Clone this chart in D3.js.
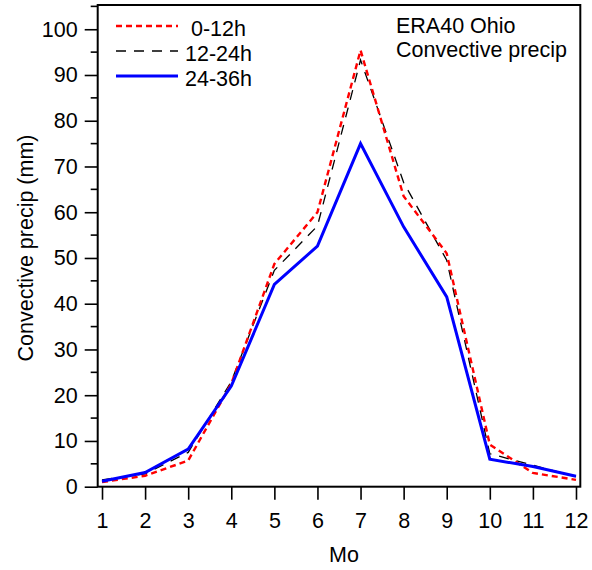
<!DOCTYPE html>
<meta charset="utf-8">
<head>
    <style>
        body {margin: 0; background-color: #ffffff;}
        text {font-family: "Liberation Sans", Arial, sans-serif; fill: #000;}
    </style>
    <title></title>
</head>
<body>
<script src="https://d3js.org/d3.v7.min.js"></script>
<script>

    const width = 592, height = 570;

    const months = [1, 2, 3, 4, 5, 6, 7, 8, 9, 10, 11, 12];
    const precip0to12 = [1.0, 2.4, 5.7, 22.5, 48.7, 60.0, 95.4, 63.5, 51.0, 9.2, 3.0, 1.5];
    const precip12to24 = [1.5, 2.8, 7.5, 23.0, 47.3, 57.0, 93.3, 66.5, 49.5, 7.2, 4.7, 2.2];
    const precip24to36 = [1.2, 3.1, 8.2, 22.0, 44.2, 52.6, 75.0, 56.8, 41.5, 6.0, 4.4, 2.3];
    const seriesNames = ["0-12h", "12-24h", "24-36h"];
    const yTicks = [0, 10, 20, 30, 40, 50, 60, 70, 80, 90, 100];
    const yMinorTicks = [5, 15, 25, 35, 45, 55, 65, 75, 85, 95, 105];
    const annotation = ["ERA40 Ohio", "Convective precip"];

    const fontSize = "21.5px";

    const svg = d3.select("body")
      .append("svg")
        .attr("width", width)
        .attr("height", height);

    const x = d3.scaleLinear().domain([0.9, 12.1]).range([97.7, 580.3]);
    const y = d3.scaleLinear().domain([0, 105.3]).range([486.7, 5]);

    // series styles
    const styles = [
      {color: "#ff0000", width: 2.4, dash: "6,4"},
      {color: "#000000", width: 1.3, dash: "10,8"},
      {color: "#0000ff", width: 3, dash: null}
    ];
    const allSeries = [precip0to12, precip12to24, precip24to36];

    const line = d3.line()
      .x((d, i) => x(months[i]))
      .y(d => y(d));

    // draw order: black, red, blue on top
    [1, 0, 2].forEach(k => {
      svg.append("path")
        .datum(allSeries[k])
        .attr("fill", "none")
        .attr("stroke", styles[k].color)
        .attr("stroke-width", styles[k].width)
        .attr("stroke-dasharray", styles[k].dash)
        .attr("stroke-linejoin", "miter")
        .attr("d", line);
    });

    // frame
    svg.append("rect")
      .attr("x", x.range()[0])
      .attr("y", y.range()[1])
      .attr("width", x.range()[1] - x.range()[0])
      .attr("height", y.range()[0] - y.range()[1])
      .attr("fill", "none")
      .attr("stroke", "#000")
      .attr("stroke-width", 2);

    // y axis
    const yAxis = svg.append("g")
      .attr("transform", "translate(" + x.range()[0] + ",0)")
      .call(d3.axisLeft(y).tickValues(yTicks).tickSize(13).tickPadding(7));
    yAxis.select(".domain").remove();
    yAxis.selectAll("line").attr("stroke-width", 1.6);
    yAxis.selectAll("text")
      .style("font-size", fontSize)
      .style("font-family", "Liberation Sans, Arial, sans-serif");

    svg.append("g")
      .selectAll("line")
      .data(yMinorTicks.filter(d => d <= 105.3))
      .join("line")
        .attr("x1", x.range()[0] - 7)
        .attr("x2", x.range()[0])
        .attr("y1", d => y(d))
        .attr("y2", d => y(d))
        .attr("stroke", "#000")
        .attr("stroke-width", 1.6);

    // x axis
    const xAxis = svg.append("g")
      .attr("transform", "translate(0," + y.range()[0] + ")")
      .call(d3.axisBottom(x).tickValues(months).tickFormat(d3.format("d")).tickSize(13).tickPadding(13));
    xAxis.select(".domain").remove();
    xAxis.selectAll("line").attr("stroke-width", 1.6);
    xAxis.selectAll("text")
      .style("font-size", fontSize)
      .style("font-family", "Liberation Sans, Arial, sans-serif");

    // axis titles
    svg.append("text")
      .attr("x", 344)
      .attr("y", 562)
      .attr("text-anchor", "middle")
      .style("font-size", fontSize)
      .text("Mo");

    svg.append("text")
      .attr("transform", "translate(33,248) rotate(-90)")
      .attr("text-anchor", "middle")
      .style("font-size", fontSize)
      .text("Convective precip (mm)");

    // legend
    const legend = svg.append("g");
    seriesNames.forEach((name, k) => {
      const ly = 26 + k * 25;
      legend.append("line")
        .attr("x1", 116).attr("x2", 178)
        .attr("y1", ly).attr("y2", ly)
        .attr("stroke", styles[k].color)
        .attr("stroke-width", styles[k].width)
        .attr("stroke-dasharray", styles[k].dash);
      legend.append("text")
        .attr("x", k === 0 ? 191 : 185)
        .attr("y", ly + 10)
        .style("font-size", fontSize)
        .text(name);
    });

    // annotation
    annotation.forEach((t, i) => {
      svg.append("text")
        .attr("x", 396)
        .attr("y", 33 + i * 24)
        .style("font-size", fontSize)
        .text(t);
    });

</script>
</body>
</html>
